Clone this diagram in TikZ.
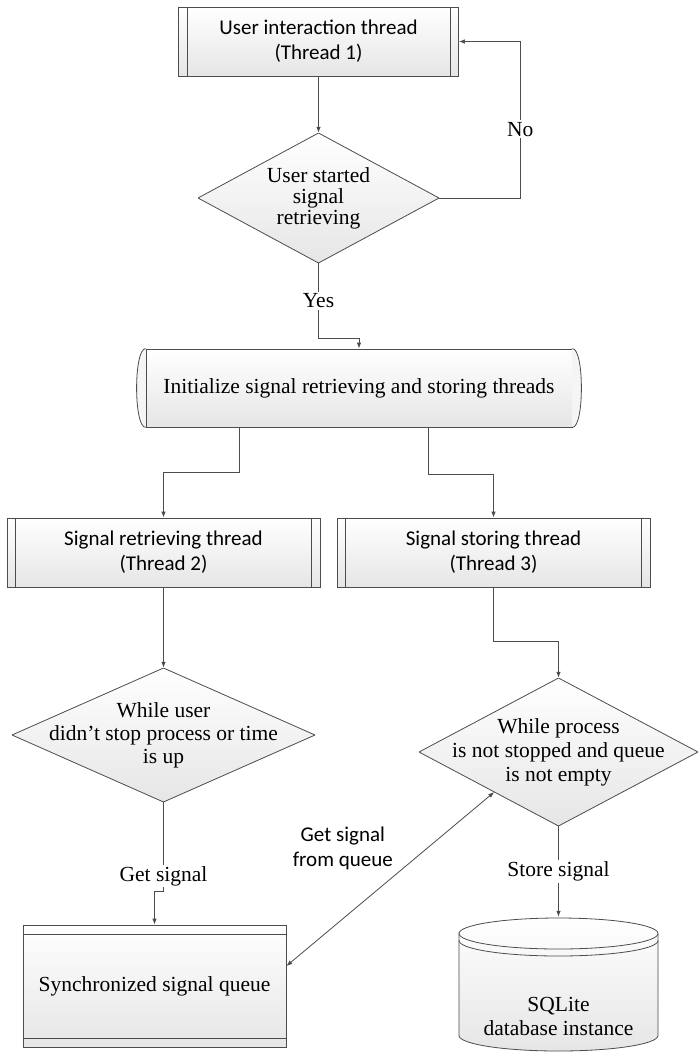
\documentclass[tikz,border=0pt]{standalone}
\usepackage{fontspec}
\setmainfont{Liberation Serif}
\newfontfamily\calibri{Carlito}
\usetikzlibrary{arrows.meta}
\usetikzlibrary{calc}
\newcommand{\flowfont}{\fontsize{21.5}{23}\selectfont}
\newcommand{\threadfont}{\calibri\fontsize{21}{25}\selectfont}
\tikzset{
	boxline/.style={draw=black!70, line width=0.8pt},
	boxfill/.style={top color=white, bottom color=black!10},
	thread/.style={rectangle, boxline, boxfill, minimum width=#1, minimum height=69pt, align=center, font=\threadfont,
		path picture={
			\draw[boxline] ([xshift=8.5pt]path picture bounding box.north west) -- ([xshift=8.5pt]path picture bounding box.south west);
			\draw[boxline] ([xshift=-8.5pt]path picture bounding box.north east) -- ([xshift=-8.5pt]path picture bounding box.south east);
		}
	},
	decision/.style n args={2}{rectangle, minimum width=#1, minimum height=#2, inner sep=0pt, align=center,
		path picture={
			\shadedraw[boxline, boxfill] (path picture bounding box.north) -- (path picture bounding box.east) -- (path picture bounding box.south) -- (path picture bounding box.west) -- cycle;
		}
	},
	initbox/.style={rectangle, boxline, boxfill, minimum width=426pt, minimum height=78pt, inner xsep=2pt},
	queue/.style={rectangle, boxline, boxfill, minimum width=263pt, minimum height=122pt,
		path picture={
			\draw[boxline] ([yshift=-9pt]path picture bounding box.north west) -- ([yshift=-9pt]path picture bounding box.north east);
			\draw[boxline] ([yshift=9pt]path picture bounding box.south west) -- ([yshift=9pt]path picture bounding box.south east);
		}
	},
	database/.style={rectangle, minimum width=201pt, minimum height=135pt, inner sep=0pt,
		path picture={
			\shadedraw[boxline, boxfill] ([shift={(-99.5pt,51pt)}]path picture bounding box.center) -- ([shift={(-99.5pt,-51pt)}]path picture bounding box.center)
				arc[start angle=180, end angle=360, x radius=99.5pt, y radius=15.5pt] -- ([shift={(99.5pt,51pt)}]path picture bounding box.center)
				arc[start angle=0, end angle=180, x radius=99.5pt, y radius=15.5pt] -- cycle;
			\draw[boxline] ([shift={(-99.5pt,51pt)}]path picture bounding box.center) arc[start angle=180, end angle=360, x radius=99.5pt, y radius=15.5pt];
			\draw[boxline] ([shift={(-99.5pt,44pt)}]path picture bounding box.center) arc[start angle=180, end angle=360, x radius=99.5pt, y radius=15.5pt];
		}
	}
}

\begin{document}
\begin{tikzpicture}[x=1pt, y=-1pt, font=\flowfont, line/.style={draw=black!70, line width=0.8pt}, >={Latex[length=6pt, width=4.5pt]}]
	\path[use as bounding box, fill=white] (0,0) rectangle (698,1052);

	% --- user thread ---
	\node[thread=280pt] (t1) at (318.5, 41.5) {User interaction thread\\(Thread 1)};
	\node[decision={241pt}{130pt}] (d1) at (318.5, 198) {User started\\[-2pt]signal\\[-2pt]retrieving};
	\node[initbox] (init) at (359, 388) {Initialize signal retrieving and storing threads};
	\filldraw[boxline, fill=black!4] (init.north west) .. controls ([xshift=-12pt]init.north west) and ([xshift=-12pt]init.south west) .. (init.south west);
	\filldraw[boxline, fill=black!4] (init.north east) .. controls ([xshift=12pt]init.north east) and ([xshift=12pt]init.south east) .. (init.south east);

	% --- worker threads ---
	\node[thread=313pt] (t2) at (163.5, 552.5) {Signal retrieving thread\\(Thread 2)};
	\node[thread=313pt] (t3) at (493.5, 552.5) {Signal storing thread\\(Thread 3)};
	\node[decision={303pt}{134pt}] (d2) at (163.5, 735) {While user\\didn’t stop process or time\\is up};
	\node[decision={279pt}{148pt}] (d3) at (558.5, 752) {While process\\[1pt]is not stopped and queue\\[1pt]is not empty};

	% --- storage ---
	\node[queue] (queue) at (154.5, 986) {Synchronized signal queue};
	\node[database, label={[name=dbtext, align=center, yshift=-31.5pt]center:SQLite\\[1pt]database instance}] (db) at (558.5, 984.5) {};

	% --- connectors ---
	\draw[line, ->] (t1) -- (d1);
	\draw[line, ->] (d1.east) -- ++(81,0) |- node[pos=0.22, fill=white, inner sep=2pt] {No} (t1.east);
	\draw[line, ->] (d1.south) -- node[fill=white, inner sep=2pt] {Yes} ++(0,75) -| (init.north);
	\draw[line, ->] ([xshift=-120pt]init.south) -- ++(0,45) -| (t2.north);
	\draw[line, ->] ([xshift=69pt]init.south) -- ++(0,47) -| (t3.north);
	\draw[line, ->] (t2) -- (d2);
	\draw[line, ->] (t3.south) -- ++(0,54) -| (d3.north);
	\draw[line, ->] (d2.south) -- node[pos=0.83, fill=white, inner sep=1pt] {Get signal} ++(0,89) -| (queue.north);
	\draw[line, ->] (d3.south) -- node[fill=white, inner sep=2pt] {Store signal} (db.north);
	\draw[line, <->] ([yshift=20pt]queue.east) -- node[pos=0.53, above left, font=\threadfont, align=center] {Get signal\\from queue} ($(d3.west)!0.54!(d3.south)$);

\end{tikzpicture}
\end{document}
